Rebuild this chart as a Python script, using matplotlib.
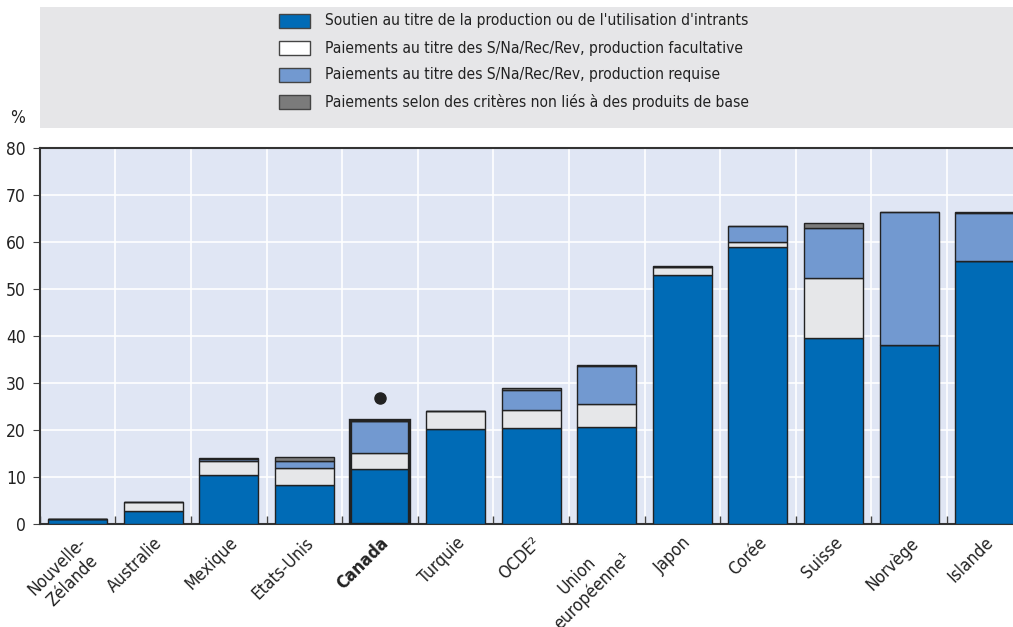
import numpy as np
import matplotlib.pyplot as plt
from matplotlib.patches import Rectangle

plt.rcParams['font.family'] = ['DejaVu Sans']
plt.rcParams['font.stretch'] = 'condensed'

countries = ['Nouvelle-\nZélande', 'Australie', 'Mexique', 'Etats-Unis', 'Canada', 'Turquie',
             'OCDE²', 'Union\neuropéenne¹', 'Japon', 'Corée', 'Suisse', 'Norvège', 'Islande']
prod = [1.0, 2.8, 10.4, 8.4, 11.6, 20.2, 20.4, 20.6, 52.9, 58.9, 39.6, 38.1, 56.0]
facult = [0.0, 1.8, 3.0, 3.6, 3.6, 3.9, 3.8, 5.0, 1.7, 1.2, 12.8, 0.0, 0.0]
requise = [0.0, 0.0, 0.5, 1.4, 6.7, 0.0, 4.3, 8.0, 0.0, 3.2, 10.5, 28.3, 10.2]
non_lies = [0.0, 0.0, 0.2, 0.9, 0.2, 0.0, 0.5, 0.3, 0.2, 0.0, 1.2, 0.0, 0.2]
canada_dot = 26.9

labels = ["Soutien au titre de la production ou de l'utilisation d'intrants",
          "Paiements au titre des S/Na/Rec/Rev, production facultative",
          "Paiements au titre des S/Na/Rec/Rev, production requise",
          "Paiements selon des critères non liés à des produits de base"]
colors = ['#006BB6', '#E6E7E9', '#7299D0', '#7B7B7B']
leg_colors = ['#006BB6', '#FFFFFF', '#7299D0', '#7B7B7B']

W, H = 1013, 627
fig = plt.figure(figsize=(W / 100, H / 100), dpi=100)
ax = fig.add_axes([0.0392, 0.1643, 0.9702, 0.5997])
ax.set_facecolor('#E0E6F4')

x = np.arange(len(countries))
bottom = np.zeros(len(countries))
for vals, c in zip([prod, facult, requise, non_lies], colors):
    vals = np.array(vals)
    ax.bar(x, vals, 0.78, bottom=bottom, color=c, edgecolor='#222222', linewidth=1.0, zorder=3)
    bottom += vals
# Canada outline
ax.bar(x[4], bottom[4], 0.78, fill=False, edgecolor='#222222', linewidth=2.4, zorder=4)
ax.plot(x[4], canada_dot, 'o', color='#222222', markersize=8, zorder=5)

ax.set_xlim(-0.5, len(countries) - 0.5)
ax.set_ylim(0, 80)
ax.set_yticks(range(0, 81, 10))
ax.set_xticks(x - 0.5, minor=True)
ax.set_xticks(x)
ax.grid(which='minor', axis='x', color='white', linewidth=1.2, zorder=0)
ax.grid(which='major', axis='y', color='white', linewidth=1.2, zorder=0)
ax.tick_params(axis='x', which='major', length=0, pad=7)
ax.tick_params(axis='x', which='minor', direction='in', length=6, color='#444444', width=1)
ax.tick_params(axis='y', length=5, color='#444444', labelsize=12.5, pad=5)
ax.set_xticklabels(countries, rotation=45, ha='right', va='top', rotation_mode='anchor',
                   fontsize=12.5, multialignment='center')
for t in ax.get_xticklabels():
    t.set_color('#222222')
ax.get_xticklabels()[4].set_fontweight('bold')
for t in ax.get_yticklabels():
    t.set_color('#222222')
for s in ['left', 'top', 'bottom']:
    ax.spines[s].set_color('#333333')
    ax.spines[s].set_linewidth(1.5)
ax.spines['right'].set_visible(False)

# legend box, drawn in pixel positions
fig.patches.append(Rectangle((40 / W, 1 - 128 / H), 1.0, 121 / H, transform=fig.transFigure,
                             facecolor='#E6E6E8', edgecolor='none', zorder=0))
for i, (lab, c) in enumerate(zip(labels, leg_colors)):
    yc = 21 + 27 * i
    fig.patches.append(Rectangle((279 / W, 1 - (yc + 7) / H), 31 / W, 14 / H,
                                 transform=fig.transFigure, facecolor=c,
                                 edgecolor='#444444', linewidth=1, zorder=2))
    fig.text(325 / W, 1 - yc / H, lab, fontsize=11.2, color='#222222', va='center')

fig.text(10 / W, 1 - 118 / H, '%', fontsize=12.5, color='#222222', va='center')

fig.savefig('out.png', dpi=100)
